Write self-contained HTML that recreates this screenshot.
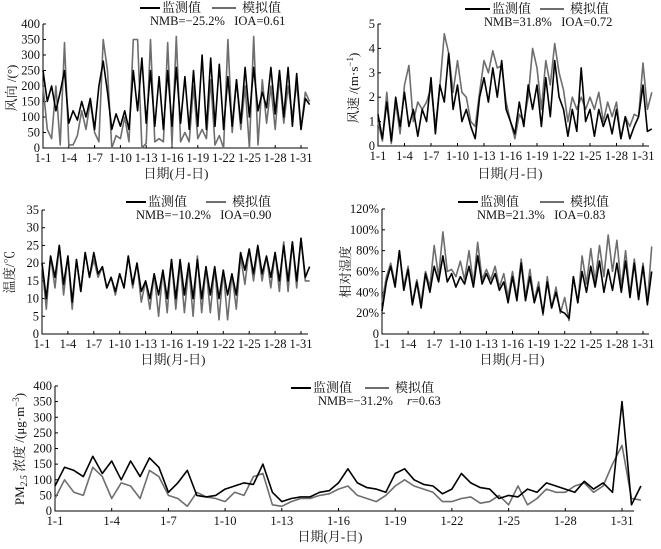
<!DOCTYPE html>
<html><head><meta charset="utf-8">
<style>
html,body{margin:0;padding:0;background:#fff;}
svg{display:block;font-family:"Liberation Serif","Noto Serif CJK SC",serif;}
text{white-space:pre;}
</style></head>
<body>
<svg id="fig" width="661" height="549" viewBox="0 0 661 549" xmlns="http://www.w3.org/2000/svg"></svg>
<script>
// Data: two samples per day starting 1-1 (index i -> day 1 + i/2)
const dayTicks = [1,4,7,10,13,16,19,22,25,28,31];
const windDirObs = [250,150,200,120,180,250,80,120,90,150,100,160,60,200,280,180,60,110,70,120,60,250,120,290,80,250,70,230,60,250,70,260,80,230,60,250,70,300,60,290,70,270,60,230,70,220,80,260,100,260,120,180,130,260,110,250,100,260,70,240,60,160,140];
const windDirSim = [200,60,30,200,10,340,10,10,40,120,60,150,50,20,350,250,0,40,30,100,20,350,350,0,15,350,20,30,20,340,10,360,20,50,20,200,30,60,30,220,10,40,0,350,50,220,60,200,0,360,10,220,80,200,60,230,80,200,100,210,60,180,150];
const windSpdObs = [1.3,0.3,1.8,0.2,2.0,0.8,2.2,0.8,1.5,0.4,1.5,1.0,2.8,0.5,2.5,1.8,3.8,1.5,2.5,1.0,1.5,0.8,0.3,2.0,2.8,1.8,3.2,2.0,3.5,1.5,1.0,0.5,1.8,0.8,2.5,1.5,2.5,0.8,2.8,1.2,3.5,2.0,1.5,0.4,1.5,0.6,3.2,1.0,1.5,0.4,1.5,0.8,1.3,0.5,1.5,0.3,1.2,0.3,0.8,1.2,2.5,0.6,0.7];
const windSpdSim = [1.0,0.2,2.2,0.1,1.8,0.5,2.5,3.3,1.0,1.8,1.5,1.8,2.4,0.8,2.4,4.6,3.8,2.2,3.5,2.2,2.0,1.0,0.8,2.2,3.5,3.0,3.9,3.2,3.3,1.8,1.0,0.3,1.3,1.0,2.0,4.0,3.2,1.5,3.5,2.5,4.2,3.0,2.3,1.0,2.0,1.5,2.0,1.5,2.0,1.5,2.2,1.0,1.8,1.2,1.8,0.3,1.2,0.8,1.3,1.2,3.4,1.5,2.2];
const tempObs = [20,10,22,16,25,14,22,9,21,12,23,16,23,17,19,13,16,12,17,13,22,14,20,12,15,10,17,11,18,10,21,10,21,11,20,10,21,10,19,11,19,10,18,11,17,11,23,18,24,17,25,17,22,16,23,15,25,15,26,15,27,16,19];
const tempSim = [20,7,22,13,25,11,22,7,21,12,23,16,21,16,19,13,16,11,17,13,22,13,20,9,15,7,17,5,18,6,21,7,20,6,19,5,22,6,19,6,19,4,18,4,17,7,22,14,24,15,24,15,22,13,23,12,26,12,26,13,27,15,15];
const rhObs = [22,50,65,45,80,42,62,28,50,25,58,40,65,50,75,50,58,45,55,48,65,45,75,48,58,48,58,42,50,30,55,32,68,32,55,30,45,20,50,25,40,22,20,15,55,30,60,40,65,45,70,40,62,42,68,40,70,35,68,33,65,28,60];
const rhSim = [30,55,68,48,80,45,65,30,52,30,60,45,85,55,98,60,62,55,70,52,80,48,88,52,62,52,65,45,58,35,60,35,72,35,62,32,50,18,55,25,45,20,35,13,55,30,75,48,82,50,85,55,95,60,90,45,80,38,72,35,68,30,84];
const pmObs = [80,140,130,110,175,120,160,100,160,110,170,140,60,90,130,50,45,50,70,80,90,85,150,60,30,40,45,45,60,65,90,135,90,75,70,60,120,135,100,85,80,55,70,120,90,75,70,40,50,45,70,60,90,80,70,60,95,70,90,60,350,20,80];
const pmSim = [40,100,60,50,140,110,40,90,80,40,130,110,50,40,15,60,45,40,30,60,50,110,120,20,15,30,40,40,50,55,70,80,50,40,30,50,80,100,80,70,60,30,30,40,45,25,30,50,20,80,20,40,70,60,60,80,90,60,80,150,210,40,35];
const wdTicks = [0,50,100,150,200,250,300,350,400];
const wsTicks = [0,1,2,3,4,5];
const tTicks = [0,5,10,15,20,25,30,35];
const rhTicks = [0,20,40,60,80,100,120];
const pmTicks = [0,50,100,150,200,250,300,350,400];

const NS='http://www.w3.org/2000/svg';
const svg=document.getElementById('fig');
function mk(tag,attrs,parent){const e=document.createElementNS(NS,tag);for(const k in attrs)e.setAttribute(k,attrs[k]);(parent||svg).appendChild(e);return e;}
function txt(s,x,y,size,anchor,parent){const t=mk('text',{x:x,y:y,'font-size':size,'text-anchor':anchor||'start',fill:'#111'},parent);t.textContent=s;return t;}

function panel(p){
  const g=mk('g',{});
  
  
  const xs=d=>p.x0+(d-1)*(p.x1-p.x0)/30;
  const ys=v=>p.y0-(v/p.ymax)*(p.y0-p.yt);
  const ax=mk('path',{d:`M${p.ax},${p.yt} V${p.y0} H${p.xe}`,stroke:'#000','stroke-width':1,fill:'none'},g);
  
  
  p.yticks.forEach(v=>{
    const y=ys(v);
    mk('line',{x1:p.ax,x2:p.ax+3,y1:y,y2:y,stroke:'#000'},g);
    const t=txt(p.fmt?p.fmt(v):String(v),p.ax-3,y+4,12.5,'end',g);
    
    
  });
  dayTicks.forEach(d=>{
    const x=xs(d);
    mk('line',{x1:x,x2:x,y1:p.y0,y2:p.y0-3,stroke:'#000'},g);
    const t=txt('1-'+d,x,p.y0+14,12.5,'middle',g);
    
    
  });
  const xt=txt('日期(月-日)',p.xtX,p.xtY,13,'middle',g);
  
  
  [[p.sim,'#6e6e6e','simulated-line'],[p.obs,'#000','observed-line']].forEach(([arr,c,n])=>{
    const pts=arr.map((v,i)=>xs(1+i/2).toFixed(1)+','+ys(v).toFixed(1)).join(' ');
    const l=mk('polyline',{points:pts,fill:'none',stroke:c,'stroke-width':1.6,'stroke-linejoin':'round'},g);
    
    
  });
  const L=p.leg;
  const lg=mk('g',{},g);
  
  
  mk('line',{x1:L.b1,x2:L.b2,y1:L.y-4,y2:L.y-4,stroke:'#000','stroke-width':2},lg);
  txt('监测值',L.b2+2,L.y,13,'start',lg);
  mk('line',{x1:L.g1,x2:L.g2,y1:L.y-4,y2:L.y-4,stroke:'#6e6e6e','stroke-width':2},lg);
  txt('模拟值',L.g2+6,L.y,13,'start',lg);
  const st=txt(L.stat,L.sx,L.y+13,12.5,'start',lg);
  
  
  if(L.r){const rt=mk('text',{x:L.rx,y:L.y+13,'font-size':12.5,fill:'#111'},lg);rt.innerHTML='<tspan font-style="italic">r</tspan>=0.63';}
  const yt=mk('text',{x:0,y:0,'font-size':13,'text-anchor':'middle',fill:'#111',transform:`translate(${p.ytX},${p.ytY}) rotate(-90)`},g);
  yt.innerHTML=p.ytitle;
  
  
}

panel({name:'wind-direction-panel',ax:43,x0:43,x1:301,xe:308,y0:148,yt:24,ymax:400,yticks:wdTicks,obs:windDirObs,sim:windDirSim,
  xtX:176,xtY:178,ytX:16,ytY:88,ytitle:'风向 /(°)',
  leg:{y:12,b1:140,b2:160,g1:212,g2:236,stat:'NMB=−25.2%   IOA=0.61',sx:150}});
panel({name:'wind-speed-panel',ax:378,x0:378,x1:643,xe:649,y0:146,yt:24,ymax:5,yticks:wsTicks,obs:windSpdObs,sim:windSpdSim,
  xtX:510,xtY:178,ytX:358,ytY:88,ytitle:'风速 /(m·s<tspan dy="-5" font-size="9">−1</tspan><tspan dy="5">)</tspan>',
  leg:{y:13,b1:465,b2:490,g1:540,g2:564,stat:'NMB=31.8%   IOA=0.72',sx:484}});
panel({name:'temperature-panel',ax:42,x0:42,x1:301,xe:308,y0:334,yt:210,ymax:35,yticks:tTicks,obs:tempObs,sim:tempSim,
  xtX:173,xtY:364,ytX:14,ytY:272,ytitle:'温度/℃',
  leg:{y:206,b1:126,b2:146,g1:206,g2:226,stat:'NMB=−10.2%   IOA=0.90',sx:136}});
panel({name:'humidity-panel',ax:382,x0:382,x1:643,xe:649,y0:334,yt:209,ymax:120,yticks:rhTicks,fmt:v=>v===0?'0':v+'%',obs:rhObs,sim:rhSim,
  xtX:512,xtY:364,ytX:350,ytY:272,ytitle:'相对湿度',
  leg:{y:206,b1:458,b2:478,g1:540,g2:564,stat:'NMB=21.3%   IOA=0.83',sx:477}});
panel({name:'pm25-panel',ax:55,x0:55,x1:622,xe:634,y0:511,yt:386,ymax:400,yticks:pmTicks,obs:pmObs,sim:pmSim,
  xtX:330,xtY:541,ytX:24,ytY:449,ytitle:'PM<tspan dy="3" font-size="9" font-style="italic">2.5</tspan><tspan dy="-3"> 浓度 /(μg·m</tspan><tspan dy="-5" font-size="9">−3</tspan><tspan dy="5">)</tspan>',
  leg:{y:392,b1:291,b2:311,g1:365,g2:389,stat:'NMB=−31.2%',sx:318,r:true,rx:407}});
</script>
</body></html>
